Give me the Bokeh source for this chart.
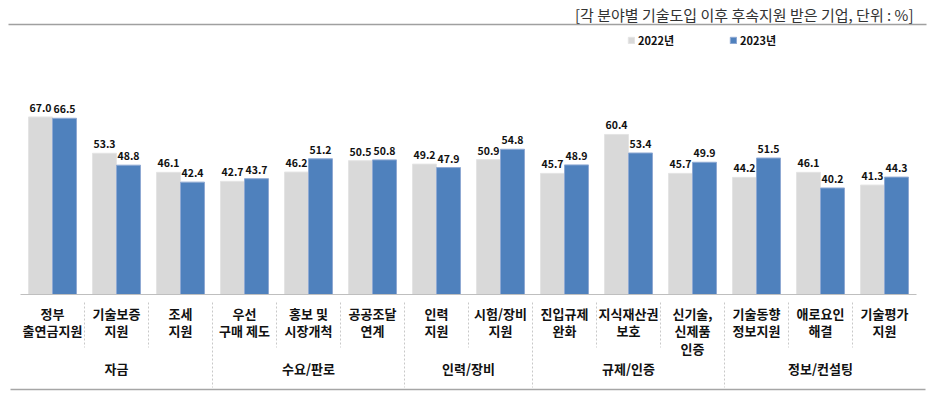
from bokeh.plotting import figure
from bokeh.models import Range1d, ColumnDataSource, Legend, LegendItem, Label
from bokeh.core.properties import value
from bokeh.embed import file_html
from bokeh.resources import INLINE

# ---------------- data ----------------
groups = ["자금", "수요/판로", "인력/장비", "규제/인증", "정보/컨설팅"]
group_sizes = [3, 3, 2, 3, 3]
categories = [
    "정부\n출연금지원", "기술보증\n지원", "조세\n지원",
    "우선\n구매 제도", "홍보 및\n시장개척", "공공조달\n연계",
    "인력\n지원", "시험/장비\n지원",
    "진입규제\n완화", "지식재산권\n보호", "신기술,\n신제품\n인증",
    "기술동향\n정보지원", "애로요인\n해결", "기술평가\n지원",
]
v2022 = [67.0, 53.3, 46.1, 42.7, 46.2, 50.5, 49.2, 50.9, 45.7, 60.4, 45.7, 44.2, 46.1, 41.3]
v2023 = [66.5, 48.8, 42.4, 43.7, 51.2, 50.8, 47.9, 54.8, 48.9, 53.4, 49.9, 51.5, 40.2, 44.3]
series_names = ["2022년", "2023년"]
series_colors = ["#D9D9D9", "#4F81BD"]
title_text = "[각 분야별 기술도입 이후 후속지원 받은 기업, 단위 : %]"

# ---------------- layout ----------------
W, H = 943, 400
CAT_PX = 64.0      # pixels per category
LEFT_PX = 20.0     # canvas x of first category boundary
BASE_PX = 294.0    # canvas y of zero line
PPU = 2.65         # pixels per percentage point
X0 = -LEFT_PX / CAT_PX
X1 = X0 + W / CAT_PX
Y1 = BASE_PX / PPU
Y0 = -(H - BASE_PX) / PPU


def dx(px):
    return X0 + px / CAT_PX


def dy(py):
    return Y1 - py / PPU


FONT = "Noto Sans CJK KR"
n = len(categories)

p = figure(width=W, height=H, output_backend="svg", toolbar_location=None,
           x_range=Range1d(X0, X1), y_range=Range1d(Y0, Y1),
           x_axis_location=None, y_axis_location=None,
           min_border=0, outline_line_color=None)
p.xgrid.visible = False
p.ygrid.visible = False
p.background_fill_color = "white"
p.border_fill_color = "white"

# bars
bw = 0.375
src22 = ColumnDataSource(dict(x=[i + 0.125 + bw / 2 for i in range(n)], top=v2022,
                              lab=[f"{v:.1f}" for v in v2022]))
src23 = ColumnDataSource(dict(x=[i + 0.5 + bw / 2 for i in range(n)], top=v2023,
                              lab=[f"{v:.1f}" for v in v2023]))
r22 = p.vbar(x="x", top="top", bottom=0, width=bw, source=src22,
             fill_color=series_colors[0], line_color="#E4E4E4", line_width=1)
r23 = p.vbar(x="x", top="top", bottom=0, width=bw, source=src23,
             fill_color=series_colors[1], line_color="#8FA9D3", line_width=1)

# value labels
for s in (src22, src23):
    p.text(x="x", y="top", text="lab", source=s, text_align="center",
           text_baseline="alphabetic", y_offset=-9,
           text_font=value(FONT), text_font_size="10.5px", text_font_style="bold",
           text_color="#111111")

# zero line
p.segment(x0=[dx(LEFT_PX)], x1=[dx(LEFT_PX + n * CAT_PX)], y0=[0], y1=[0],
          line_color="#BFBFBF", line_width=1.2)

# category labels
p.text(x=[i + 0.5 for i in range(n)], y=[0] * n, text=categories,
       text_align="center", text_baseline="top", y_offset=9,
       text_font=value(FONT), text_font_size="13px", text_font_style="bold",
       text_color="#111111", text_line_height=0.93)

# separators
bounds_group = []
acc = 0
for g in group_sizes[:-1]:
    acc += g
    bounds_group.append(acc)
bounds_minor = [b for b in range(1, n) if b not in bounds_group]
p.segment(x0=bounds_minor, x1=bounds_minor, y0=[dy(BASE_PX + 8)] * len(bounds_minor),
          y1=[dy(BASE_PX + 53)] * len(bounds_minor),
          line_color="#C8C8C8", line_width=1, line_dash="2 2")
p.segment(x0=bounds_group, x1=bounds_group, y0=[dy(BASE_PX + 8)] * len(bounds_group),
          y1=[dy(BASE_PX + 93)] * len(bounds_group),
          line_color="#C8C8C8", line_width=1, line_dash="2 2")

# group labels
starts = [0] + bounds_group
mids = [s + g / 2 for s, g in zip(starts, group_sizes)]
p.text(x=mids, y=[0] * len(mids), text=groups, text_align="center",
       text_baseline="middle", y_offset=74,
       text_font=value(FONT), text_font_size="13px", text_font_style="bold",
       text_color="#111111")

# bottom rule
p.segment(x0=[dx(10)], x1=[dx(925)], y0=[dy(BASE_PX + 95)], y1=[dy(BASE_PX + 95)],
          line_color="#A6A6A6", line_width=1.5)

# title + underline
p.segment(x0=[dx(8)], x1=[dx(926)], y0=[dy(24)], y1=[dy(24)],
          line_color="#A0A0A0", line_width=1.5)
p.add_layout(Label(x=913, y=H - 3, x_units="screen", y_units="screen",
                   text=title_text, text_align="right", text_baseline="top",
                   text_font=FONT, text_font_size="15px", text_color="#333333"))

# legend
legend = Legend(items=[LegendItem(label=series_names[0], renderers=[r22]),
                       LegendItem(label=series_names[1], renderers=[r23])],
                orientation="horizontal", location=(627, H - 48),
                glyph_width=8, glyph_height=8, label_height=14, label_standoff=3,
                spacing=55, padding=0, margin=0, border_line_color=None,
                background_fill_alpha=0,
                label_text_font=FONT, label_text_font_size="11px",
                label_text_font_style="bold", label_text_color="#111111")
p.add_layout(legend)

open("out.html", "w").write(file_html(p, INLINE))
